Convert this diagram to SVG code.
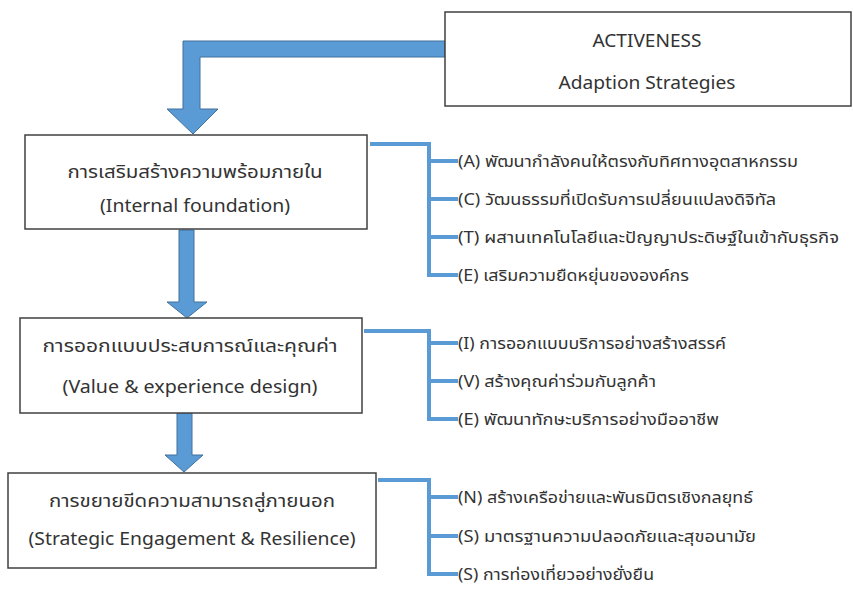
<svg xmlns="http://www.w3.org/2000/svg" width="853" height="590" viewBox="0 0 853 590">
<style>
.box{fill:#fff;stroke:#404040;stroke-width:1.5}
.t{font-family:"Noto Sans","Noto Sans Thai",Loma,Garuda,sans-serif;fill:#333;font-size:18px;text-anchor:middle}
.i{font-family:"Noto Sans","Noto Sans Thai",Loma,Garuda,sans-serif;fill:#333;font-size:15.5px}
.arr{fill:#5b9bd5;stroke:#41719c;stroke-width:1}
.br{fill:none;stroke:#5b9bd5;stroke-width:4}
</style>
<rect width="853" height="590" fill="#fff"/>
<g id="connectors">
<path class="arr" d="M445,41 L183,41 L183,109 L167,109 L193,134 L218,109 L200,109 L200,57 L445,57 Z"/>
<path class="arr" d="M179,230 L194,230 L194,302 L207,302 L187,318 L167,302 L179,302 Z"/>
<path class="arr" d="M177,413 L192,413 L192,455 L203,455 L184,472 L165,455 L177,455 Z"/>
<path class="br" d="M370,144 H429 V277 M429,161 H458 M429,199 H458 M429,237 H458 M429,275 H458"/>
<path class="br" d="M364,331 H429 V421 M429,343 H458 M429,381 H458 M429,419 H458"/>
<path class="br" d="M378,480 H429 V576 M429,497 H458 M429,536 H458 M429,574 H458"/>
</g>
<g id="activeness">
<rect class="box" x="445" y="12" width="406" height="94"/>
<text class="t" x="647" y="47" textLength="109" lengthAdjust="spacingAndGlyphs">ACTIVENESS</text>
<text class="t" x="647" y="89" textLength="177" lengthAdjust="spacingAndGlyphs">Adaption Strategies</text>
</g>
<g id="internal">
<rect class="box" x="25" y="135" width="342" height="94"/>
<text class="t" x="195" y="178" textLength="255" lengthAdjust="spacingAndGlyphs">การเสริมสร้างความพร้อมภายใน</text>
<text class="t" x="195" y="212" textLength="190" lengthAdjust="spacingAndGlyphs">(Internal foundation)</text>
</g>
<g id="value">
<rect class="box" x="20" y="318" width="342" height="95"/>
<text class="t" x="190" y="352" textLength="295" lengthAdjust="spacingAndGlyphs">การออกแบบประสบการณ์และคุณค่า</text>
<text class="t" x="190" y="393" textLength="255" lengthAdjust="spacingAndGlyphs">(Value &amp; experience design)</text>
</g>
<g id="strategic">
<rect class="box" x="8" y="473" width="368" height="95"/>
<text class="t" x="192" y="507" textLength="286" lengthAdjust="spacingAndGlyphs">การขยายขีดความสามารถสู่ภายนอก</text>
<text class="t" x="192" y="545" textLength="327" lengthAdjust="spacingAndGlyphs">(Strategic Engagement &amp; Resilience)</text>
</g>
<g id="items1">
<text class="i" x="458" y="167" textLength="340" lengthAdjust="spacingAndGlyphs">(A) พัฒนากำลังคนให้ตรงกับทิศทางอุตสาหกรรม</text>
<text class="i" x="458" y="205" textLength="318" lengthAdjust="spacingAndGlyphs">(C) วัฒนธรรมที่เปิดรับการเปลี่ยนแปลงดิจิทัล</text>
<text class="i" x="458" y="243" textLength="381" lengthAdjust="spacingAndGlyphs">(T) ผสานเทคโนโลยีและปัญญาประดิษฐ์ในเข้ากับธุรกิจ</text>
<text class="i" x="458" y="281" textLength="231" lengthAdjust="spacingAndGlyphs">(E) เสริมความยืดหยุ่นขององค์กร</text>
</g>
<g id="items2">
<text class="i" x="458" y="349" textLength="268" lengthAdjust="spacingAndGlyphs">(I) การออกแบบบริการอย่างสร้างสรรค์</text>
<text class="i" x="458" y="387" textLength="198" lengthAdjust="spacingAndGlyphs">(V) สร้างคุณค่าร่วมกับลูกค้า</text>
<text class="i" x="458" y="425" textLength="261" lengthAdjust="spacingAndGlyphs">(E) พัฒนาทักษะบริการอย่างมืออาชีพ</text>
</g>
<g id="items3">
<text class="i" x="458" y="503" textLength="295" lengthAdjust="spacingAndGlyphs">(N) สร้างเครือข่ายและพันธมิตรเชิงกลยุทธ์</text>
<text class="i" x="458" y="542" textLength="298" lengthAdjust="spacingAndGlyphs">(S) มาตรฐานความปลอดภัยและสุขอนามัย</text>
<text class="i" x="458" y="580" textLength="196" lengthAdjust="spacingAndGlyphs">(S) การท่องเที่ยวอย่างยั่งยืน</text>
</g>
</svg>
